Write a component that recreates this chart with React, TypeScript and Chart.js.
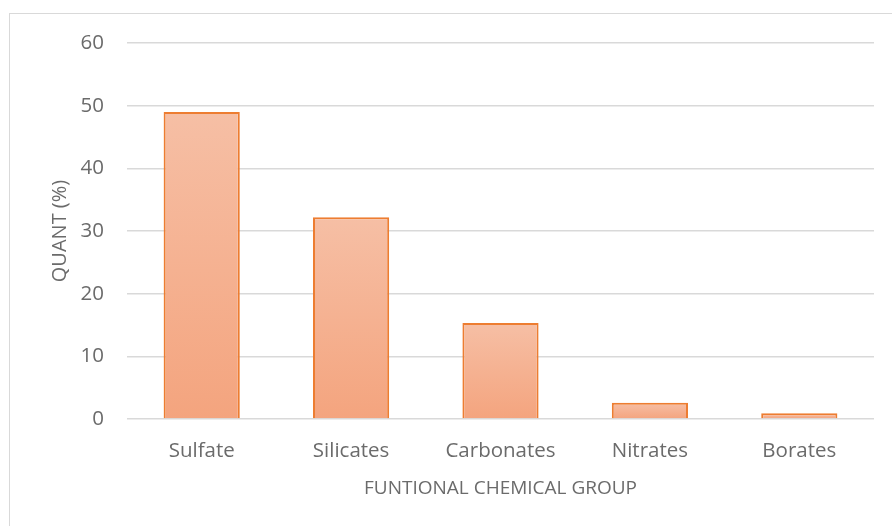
import React, { useEffect, useRef } from "react";
import { Chart, registerables } from "chart.js";

Chart.register(...registerables);

const categories = ["Sulfate", "Silicates", "Carbonates", "Nitrates", "Borates"];
const quantValues = [49.0, 32.2, 15.3, 2.6, 0.9];
const yTicks = [0, 10, 20, 30, 40, 50, 60];
const xTitle = "FUNTIONAL CHEMICAL GROUP";
const yTitle = "QUANT (%)";

const titlePlugin = {
  id: "axisTitles",
  afterDraw(chart: any) {
    const ctx = chart.ctx;
    const area = chart.chartArea;
    ctx.save();
    ctx.fillStyle = "#6b6b6b";
    ctx.textAlign = "center";
    ctx.textBaseline = "middle";
    ctx.font = "19px 'Open Sans'";
    ctx.fillText(xTitle, (area.left + area.right) / 2, 489);
    ctx.translate(60, (area.top + area.bottom) / 2);
    ctx.rotate(-Math.PI / 2);
    ctx.font = "20px 'Open Sans'";
    ctx.fillText(yTitle, 0, 0);
    ctx.restore();
  },
};

export default function App() {
  const ref = useRef<HTMLCanvasElement | null>(null);
  useEffect(() => {
    if (!ref.current) return;
    const chart = new Chart(ref.current, {
      type: "bar",
      data: {
        labels: categories,
        datasets: [
          {
            data: quantValues,
            backgroundColor: (c: any) => {
              const ch = c.chart;
              const ys = ch.scales && ch.scales.y;
              if (!ys || c.dataIndex === undefined) return "#f4b090";
              const v = quantValues[c.dataIndex];
              const top = ys.getPixelForValue(v);
              const bot = ys.getPixelForValue(0);
              if (!isFinite(top) || !isFinite(bot) || top === bot) return "#f4b090";
              const g = ch.ctx.createLinearGradient(0, top, 0, bot);
              g.addColorStop(0, "#f6bfa5");
              g.addColorStop(1, "#f4a47e");
              return g;
            },
            borderColor: "#ed7d31",
            borderWidth: 2,
            borderSkipped: "bottom",
            categoryPercentage: 1,
            barPercentage: 0.51,
          },
        ],
      },
      options: {
        animation: false,
        responsive: false,
        maintainAspectRatio: false,
        layout: { padding: { top: 43, right: 18, left: 0, bottom: 0 } },
        plugins: { legend: { display: false }, tooltip: { enabled: false } },
        scales: {
          x: {
            grid: { display: false, drawTicks: false },
            border: { display: false },
            ticks: {
              color: "#6b6b6b",
              font: { family: "'Open Sans'", size: 20.5 },
              padding: 20,
            },
            afterFit: (s: any) => {
              s.height = 107;
            },
          },
          y: {
            min: 0,
            max: 60,
            afterBuildTicks: (s: any) => {
              s.ticks = yTicks.map((v) => ({ value: v }));
            },
            grid: { color: "#d9d9d9", lineWidth: 1.5, drawTicks: false },
            border: { display: false },
            ticks: {
              color: "#6b6b6b",
              font: { family: "'Open Sans'", size: 20.5 },
              padding: 23,
            },
            afterFit: (s: any) => {
              s.width = 127;
            },
          },
        },
      },
      plugins: [titlePlugin],
    });
    return () => chart.destroy();
  }, []);
  return (
    <div style={{ position: "fixed", left: 0, top: 0, width: 892, height: 526, background: "#fff", overflow: "hidden" }}>
      <div
        style={{
          position: "absolute",
          left: 9,
          top: 13,
          width: 900,
          height: 560,
          border: "1.5px solid #d9d9d9",
          boxSizing: "border-box",
        }}
      />
      <canvas ref={ref} width={892} height={526} style={{ position: "absolute", left: 0, top: 0 }} />
    </div>
  );
}
